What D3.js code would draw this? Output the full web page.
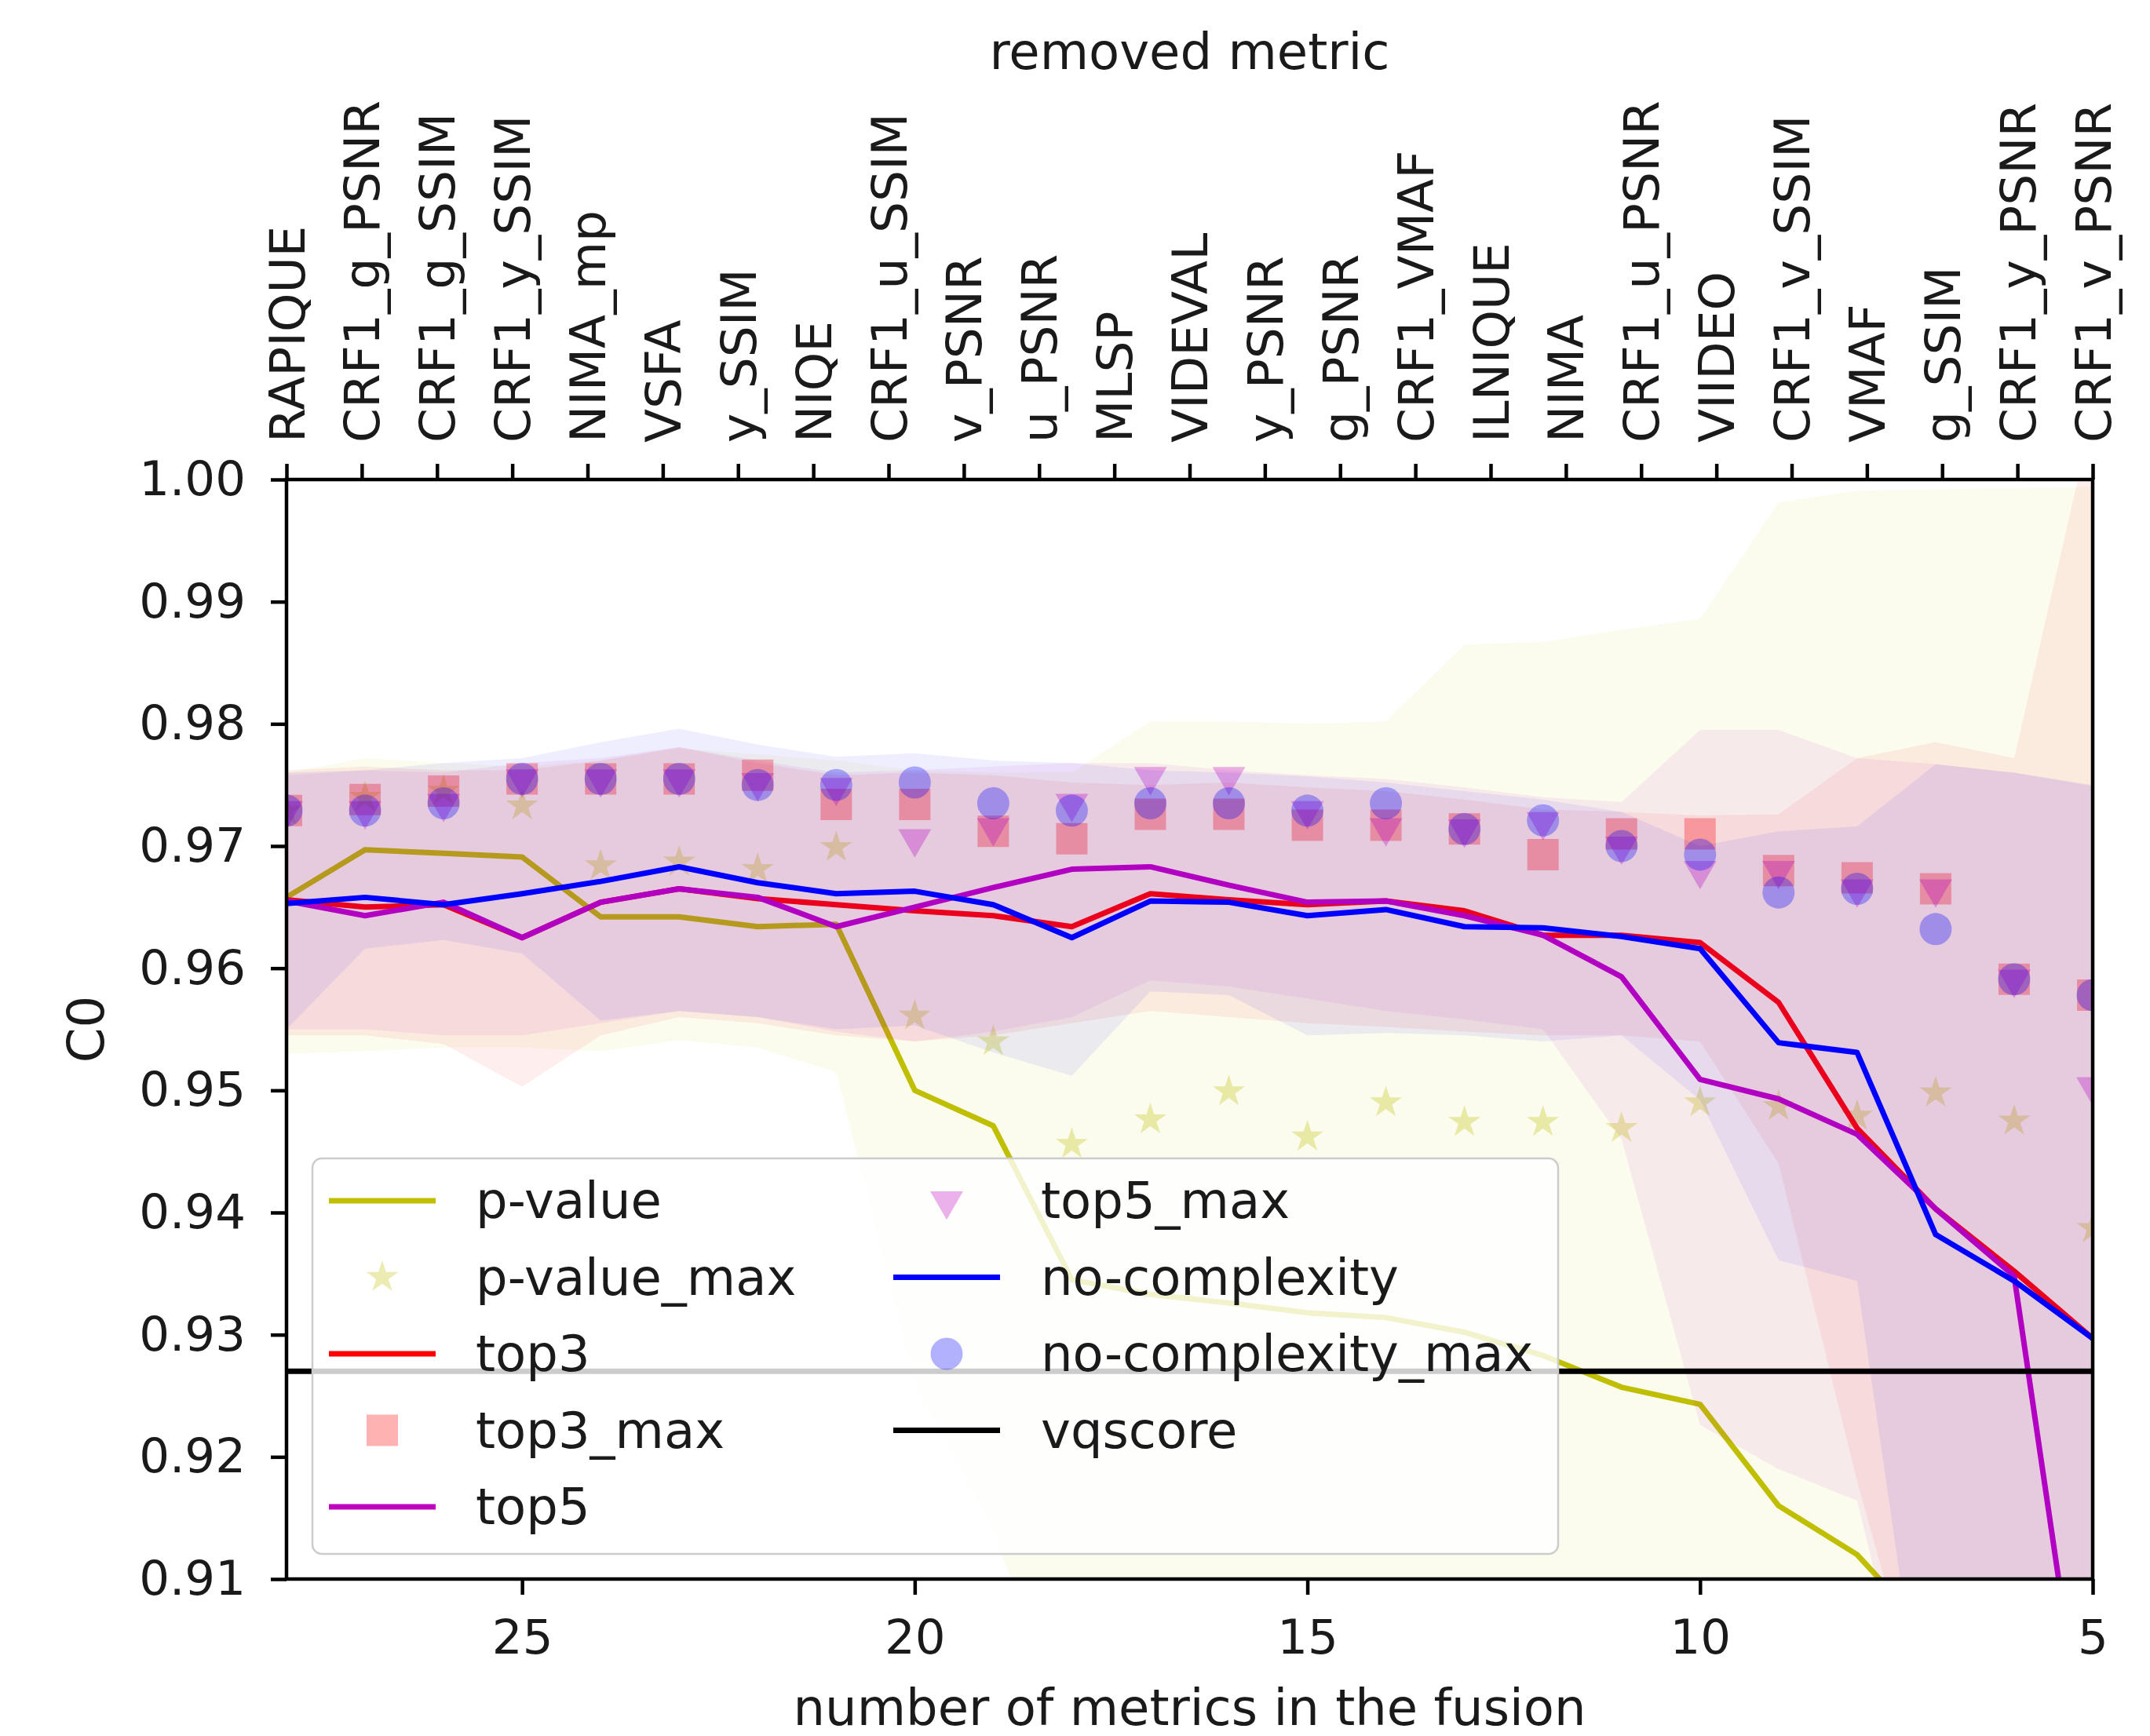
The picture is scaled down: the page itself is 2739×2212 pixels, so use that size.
<!DOCTYPE html>
<html>
<head>
<meta charset="utf-8">
<script src="https://cdn.jsdelivr.net/npm/d3@7"></script>
<style>
  body { margin: 0; background: #fff; }
  svg { display: block; font-family: "DejaVu Sans", sans-serif; }
</style>
</head>
<body>
<svg id="chart"></svg>
<script>
// number of metrics in the fusion (bottom axis)
const nMetrics = [28, 27, 26, 25, 24, 23, 22, 21, 20, 19, 18, 17, 16, 15, 14, 13, 12, 11, 10, 9, 8, 7, 6, 5];
// removed metric (top axis)
const removedMetric = ["RAPIQUE", "CRF1_g_PSNR", "CRF1_g_SSIM", "CRF1_y_SSIM", "NIMA_mp", "VSFA", "y_SSIM", "NIQE",
  "CRF1_u_SSIM", "v_PSNR", "u_PSNR", "MLSP", "VIDEVAL", "y_PSNR", "g_PSNR", "CRF1_VMAF", "ILNIQUE", "NIMA",
  "CRF1_u_PSNR", "VIIDEO", "CRF1_v_SSIM", "VMAF", "g_SSIM", "CRF1_y_PSNR", "CRF1_v_PSNR"];
const yTicks = [0.91, 0.92, 0.93, 0.94, 0.95, 0.96, 0.97, 0.98, 0.99, 1.00];
const xTicks = [25, 20, 15, 10, 5];

// mean curves
const pValue = [0.9658, 0.9697, 0.9694, 0.9691, 0.9642, 0.9642, 0.9634, 0.9636, 0.9500, 0.9471, 0.9345, 0.9333,
  0.9326, 0.9318, 0.9314, 0.9302, 0.9283, 0.9257, 0.9243, 0.9160, 0.9120, 0.9050, 0.9000, 0.8950];
const top3 = [0.9656, 0.9650, 0.9652, 0.9625, 0.9654, 0.9665, 0.9657, 0.9652, 0.9647, 0.9643, 0.9634, 0.9661,
  0.9656, 0.9652, 0.9655, 0.9647, 0.9627, 0.9627, 0.9621, 0.9572, 0.9469, 0.9403, 0.9352, 0.9297];
const top5 = [0.9655, 0.9643, 0.9654, 0.9625, 0.9654, 0.9665, 0.9658, 0.9634, 0.9650, 0.9666, 0.9681, 0.9683,
  0.9668, 0.9654, 0.9655, 0.9643, 0.9627, 0.9593, 0.9509, 0.9493, 0.9464, 0.9403, 0.9348, 0.8910];
const noComplexity = [0.9653, 0.9658, 0.9652, 0.9661, 0.9671, 0.9683, 0.9670, 0.9661, 0.9663, 0.9652, 0.9625, 0.9655,
  0.9654, 0.9643, 0.9648, 0.9634, 0.9633, 0.9626, 0.9616, 0.9539, 0.9531, 0.9382, 0.9344, 0.9297];
const vqscore = 0.927;

// max markers
const pValueMax = [0.9729, 0.9740, 0.9745, 0.9733, 0.9684, 0.9687, 0.9681, 0.9699, 0.9561, 0.9540, 0.9456, 0.9476,
  0.9499, 0.9462, 0.9490, 0.9474, 0.9474, 0.9469, 0.9490, 0.9487, 0.9479, 0.9498, 0.9475, 0.9387];
const top3Max = [0.9729, 0.9738, 0.9745, 0.9755, 0.9755, 0.9755, 0.9758, 0.9734, 0.9734, 0.9712, 0.9706, 0.9726,
  0.9726, 0.9717, 0.9717, 0.9714, 0.9693, 0.9710, 0.9710, 0.9680, 0.9674, 0.9665, 0.9591, 0.9578];
const top5Max = [0.9729, 0.9729, 0.9735, 0.9755, 0.9755, 0.9755, 0.9752, 0.9748, 0.9706, 0.9715, 0.9735, 0.9757,
  0.9757, 0.9729, 0.9715, 0.9714, 0.9720, 0.9700, 0.9680, 0.9680, 0.9665, 0.9665, 0.9591, 0.9503];
const noComplexityMax = [0.9729, 0.9729, 0.9735, 0.9755, 0.9755, 0.9755, 0.9750, 0.9750, 0.9752, 0.9735, 0.9729, 0.9735,
  0.9735, 0.9729, 0.9735, 0.9714, 0.9721, 0.9700, 0.9693, 0.9662, 0.9665, 0.9632, 0.9591, 0.9578];

// spread bands
const pValueLow = [0.9530, 0.9532, 0.9535, 0.9535, 0.9532, 0.9541, 0.9535, 0.9515, 0.9260, 0.9140, 0.8960, 0.8900,
  0.8900, 0.8900, 0.8900, 0.8900, 0.8900, 0.8900, 0.8900, 0.8900, 0.8900, 0.8800, 0.8800, 0.8800];
const pValueHigh = [0.9760, 0.9772, 0.9768, 0.9765, 0.9770, 0.9780, 0.9775, 0.9770, 0.9762, 0.9760, 0.9760, 0.9802,
  0.9802, 0.9800, 0.9802, 0.9865, 0.9867, 0.9877, 0.9886, 0.9981, 0.9991, 0.9992, 0.9993, 0.9994];
const top3Low = [0.9545, 0.9545, 0.9538, 0.9503, 0.9545, 0.9560, 0.9555, 0.9545, 0.9540, 0.9545, 0.9555, 0.9565,
  0.9560, 0.9555, 0.9552, 0.9548, 0.9545, 0.9545, 0.9540, 0.9440, 0.9180, 0.8950, 0.8900, 0.8800];
const top3High = [0.9762, 0.9765, 0.9762, 0.9762, 0.9770, 0.9781, 0.9768, 0.9758, 0.9760, 0.9758, 0.9752, 0.9750,
  0.9752, 0.9748, 0.9745, 0.9738, 0.9730, 0.9728, 0.9725, 0.9726, 0.9772, 0.9785, 0.9772, 1.0053];
const top5Low = [0.9550, 0.9550, 0.9545, 0.9545, 0.9555, 0.9565, 0.9560, 0.9548, 0.9540, 0.9548, 0.9560, 0.9590,
  0.9585, 0.9575, 0.9565, 0.9558, 0.9550, 0.9460, 0.9226, 0.9190, 0.9164, 0.8900, 0.8800, 0.8600];
const top5High = [0.9758, 0.9762, 0.9760, 0.9768, 0.9772, 0.9781, 0.9770, 0.9760, 0.9762, 0.9765, 0.9768, 0.9768,
  0.9762, 0.9758, 0.9755, 0.9748, 0.9740, 0.9736, 0.9795, 0.9795, 0.9772, 0.9767, 0.9760, 0.9749];
const noComplexityLow = [0.9550, 0.9616, 0.9623, 0.9612, 0.9557, 0.9565, 0.9560, 0.9550, 0.9553, 0.9531, 0.9512, 0.9581,
  0.9578, 0.9545, 0.9547, 0.9545, 0.9540, 0.9545, 0.9492, 0.9361, 0.9344, 0.8900, 0.8800, 0.8800];
const noComplexityHigh = [0.9760, 0.9762, 0.9768, 0.9772, 0.9785, 0.9796, 0.9783, 0.9773, 0.9776, 0.9770, 0.9768, 0.9762,
  0.9760, 0.9757, 0.9752, 0.9745, 0.9738, 0.9728, 0.9700, 0.9712, 0.9716, 0.9767, 0.9760, 0.9750];

const series = [
  { name: "p-value", color: "#bfbf00", mean: pValue, max: pValueMax, lo: pValueLow, hi: pValueHigh, symbol: d3.symbolStar, size: 520, rot: 0 },
  { name: "top3", color: "#ff0000", mean: top3, max: top3Max, lo: top3Low, hi: top3High, symbol: d3.symbolSquare, size: 1600, rot: 0 },
  { name: "top5", color: "#bf00bf", mean: top5, max: top5Max, lo: top5Low, hi: top5High, symbol: d3.symbolTriangle, size: 760, rot: 180 },
  { name: "no-complexity", color: "#0000ff", mean: noComplexity, max: noComplexityMax, lo: noComplexityLow, hi: noComplexityHigh, symbol: d3.symbolCircle, size: 1320, rot: 0 }
];

const W = 2739, H = 2212;
const plot = { left: 365, right: 2666, top: 611, bottom: 2012 };
const tickFont = 61;   // numeric tick labels
const labelFont = 64;  // titles, legend
const topFont = 63;    // removed-metric labels

const svg = d3.select("#chart").attr("width", W).attr("height", H);

const x = d3.scaleLinear().domain([28, 5]).range([plot.left, plot.right]);
const xTop = d3.scalePoint().domain(removedMetric).range([plot.left, plot.right]);
const y = d3.scaleLinear().domain([0.91, 1.00]).range([plot.bottom, plot.top]);

svg.append("defs").append("clipPath").attr("id", "clip")
  .append("rect")
  .attr("x", plot.left).attr("y", plot.top)
  .attr("width", plot.right - plot.left).attr("height", plot.bottom - plot.top);

const chart = svg.append("g").attr("clip-path", "url(#clip)");

const area = (lo, hi) => d3.area()
  .x((d, i) => x(nMetrics[i]))
  .y0((d, i) => y(lo[i]))
  .y1((d, i) => y(hi[i]))(nMetrics);

const line = d3.line()
  .x((d, i) => x(nMetrics[i]))
  .y(d => y(d));

// fill, line, markers per method (same order as the legend)
series.forEach(s => {
  chart.append("path")
    .attr("d", area(s.lo, s.hi))
    .attr("fill", s.color)
    .attr("fill-opacity", 0.065);

  chart.append("path")
    .datum(s.mean)
    .attr("d", line)
    .attr("fill", "none")
    .attr("stroke", s.color)
    .attr("stroke-width", 7)
    .attr("stroke-linejoin", "round");

  chart.selectAll(null)
    .data(s.max)
    .join("path")
    .attr("d", d3.symbol().type(s.symbol).size(s.size))
    .attr("transform", (d, i) => `translate(${x(nMetrics[i])},${y(d)}) rotate(${s.rot})`)
    .attr("fill", s.color)
    .attr("fill-opacity", 0.3);
});

// vqscore horizontal reference
chart.append("line")
  .attr("x1", x(28)).attr("x2", x(5))
  .attr("y1", y(vqscore)).attr("y2", y(vqscore))
  .attr("stroke", "#000")
  .attr("stroke-width", 7);

// axes
const styleAxis = size => g => {
  g.select(".domain").remove();
  g.selectAll(".tick line").attr("stroke", "#000").attr("stroke-width", 4.5);
  g.selectAll(".tick text").attr("fill", "#1a1a1a").style("font-size", size + "px")
    .style("font-family", '"DejaVu Sans", sans-serif');
};

svg.append("g")
  .attr("transform", `translate(${plot.left},0)`)
  .call(d3.axisLeft(y).tickValues(yTicks).tickFormat(d3.format(".2f")).tickSize(20).tickPadding(32))
  .call(styleAxis(tickFont));

svg.append("g")
  .attr("transform", `translate(0,${plot.bottom})`)
  .call(d3.axisBottom(x).tickValues(xTicks).tickFormat(d3.format("d")).tickSize(20).tickPadding(32))
  .call(styleAxis(tickFont));

const topAxis = svg.append("g")
  .attr("transform", `translate(0,${plot.top})`)
  .call(d3.axisTop(xTop).tickSize(20))
  .call(styleAxis(topFont));
topAxis.selectAll(".tick text")
  .attr("x", 0).attr("y", 0)
  .attr("dy", "0.35em")
  .attr("text-anchor", "start")
  .attr("transform", "translate(0,-47) rotate(-90)");

// spines
svg.append("rect")
  .attr("x", plot.left).attr("y", plot.top)
  .attr("width", plot.right - plot.left).attr("height", plot.bottom - plot.top)
  .attr("fill", "none").attr("stroke", "#000").attr("stroke-width", 4.5);

// axis titles
svg.append("text")
  .attr("x", (plot.left + plot.right) / 2).attr("y", 2198)
  .attr("text-anchor", "middle")
  .attr("fill", "#1a1a1a")
  .style("font-size", labelFont + "px")
  .text("number of metrics in the fusion");

svg.append("text")
  .attr("x", (plot.left + plot.right) / 2).attr("y", 88)
  .attr("text-anchor", "middle")
  .attr("fill", "#1a1a1a")
  .style("font-size", labelFont + "px")
  .text("removed metric");

svg.append("text")
  .attr("transform", `translate(132,${(plot.top + plot.bottom) / 2}) rotate(-90)`)
  .attr("text-anchor", "middle")
  .attr("fill", "#1a1a1a")
  .style("font-size", labelFont + "px")
  .text("C0");

// legend
const legend = svg.append("g").attr("transform", "translate(398,1476)");
legend.append("rect")
  .attr("width", 1587).attr("height", 504)
  .attr("rx", 12).attr("ry", 12)
  .attr("fill", "#fff").attr("fill-opacity", 0.8)
  .attr("stroke", "#cccccc").attr("stroke-width", 2.5);

const legendItems = [];
series.forEach(s => {
  legendItems.push({ label: s.name, kind: "line", color: s.color });
  legendItems.push({ label: s.name + "_max", kind: "marker", s: s });
});
legendItems.push({ label: "vqscore", kind: "line", color: "#000" });

const rowH = 97.5;
legendItems.forEach((d, i) => {
  const col = i < 5 ? 0 : 1;
  const row = i < 5 ? i : i - 5;
  const hx = col === 0 ? 21 : 740;
  const tx = col === 0 ? 208 : 928;
  const g = legend.append("g").attr("transform", `translate(0,${54 + row * rowH})`);
  if (d.kind === "line") {
    g.append("line").attr("x1", hx).attr("x2", hx + 136)
      .attr("stroke", d.color).attr("stroke-width", 7);
  } else {
    g.append("path")
      .attr("d", d3.symbol().type(d.s.symbol).size(d.s.size))
      .attr("transform", `translate(${hx + 68},0) rotate(${d.s.rot})`)
      .attr("fill", d.s.color).attr("fill-opacity", 0.3);
  }
  g.append("text")
    .attr("x", tx).attr("y", 0)
    .attr("dominant-baseline", "central")
    .attr("fill", "#1a1a1a")
    .style("font-size", labelFont + "px")
    .text(d.label);
});
</script>
</body>
</html>
